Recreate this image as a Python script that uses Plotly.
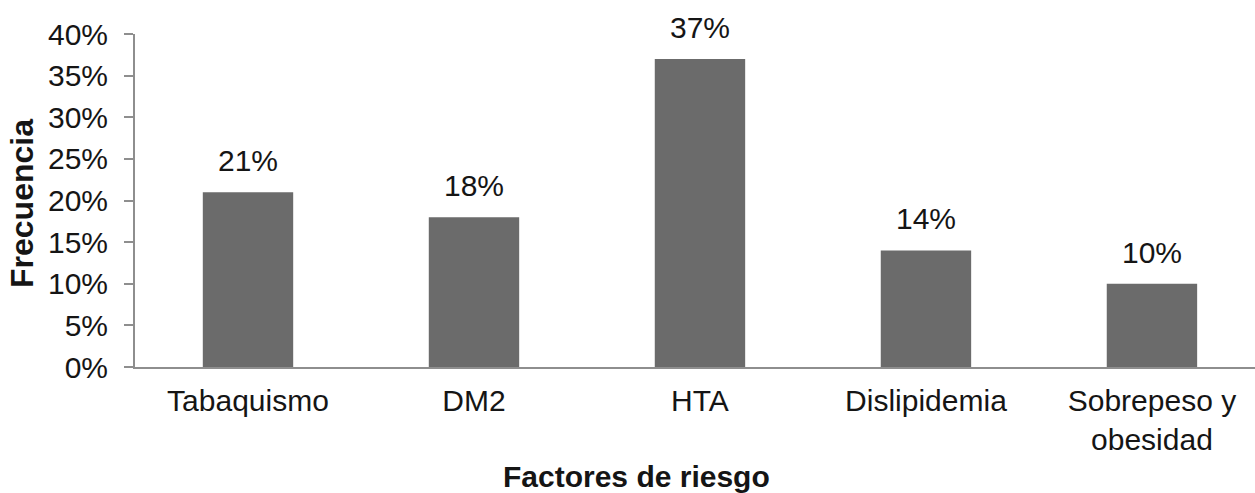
import plotly.graph_objects as go

# Risk factors and their frequency (%)
categories = ["Tabaquismo", "DM2", "HTA", "Dislipidemia", "Sobrepeso y<br>obesidad"]
frequency = [21, 18, 37, 14, 10]
y_ticks = [0, 5, 10, 15, 20, 25, 30, 35, 40]
y_tick_labels = [f"{t}%" for t in y_ticks]

FONT = "Liberation Sans, Arial, sans-serif"
BAR = "#6b6b6b"
AXIS = "#8e8e8e"
TEXT = "#151515"

W, H = 1255, 493
M_L, M_R, M_T, M_B = 135, 0, 34, 126
PW, PH = W - M_L - M_R, H - M_T - M_B

fig = go.Figure()
fig.add_trace(go.Bar(
    x=list(range(len(categories))),
    y=frequency,
    marker=dict(color=BAR, line=dict(width=0)),
    width=0.4,
    hoverinfo="skip",
))

# value labels above each bar
for i, v in enumerate(frequency):
    fig.add_annotation(
        x=i, y=v, xref="x", yref="y",
        text=f"{v}%", showarrow=False,
        yanchor="bottom", yshift=13,
        font=dict(family=FONT, size=30, color=TEXT),
    )

# axis titles
fig.add_annotation(
    x=(22 - M_L) / PW, y=(H - M_B - 204) / PH, xref="paper", yref="paper",
    text="<b>Frecuencia</b>", textangle=-90, showarrow=False,
    xanchor="center", yanchor="middle",
    font=dict(family=FONT, size=32, color=TEXT),
)
fig.add_annotation(
    x=(636 - M_L) / PW, y=-(476 - (H - M_B)) / PH, xref="paper", yref="paper",
    text="<b>Factores de riesgo</b>", showarrow=False,
    xanchor="center", yanchor="middle",
    font=dict(family=FONT, size=30, color=TEXT),
)

fig.update_layout(
    width=W, height=H,
    margin=dict(l=M_L, r=M_R, t=M_T, b=M_B, pad=0),
    paper_bgcolor="white", plot_bgcolor="white",
    showlegend=False,
    font=dict(family=FONT, size=30, color=TEXT),
    xaxis=dict(
        range=[-0.5, 4.456],
        tickmode="array",
        tickvals=list(range(len(categories))),
        ticktext=categories,
        showgrid=False, zeroline=False,
        showline=True, linecolor=AXIS, linewidth=2,
        ticks="", ticklabelstandoff=6,
        tickfont=dict(family=FONT, size=30, color=TEXT),
        fixedrange=True,
    ),
    yaxis=dict(
        range=[0, 40],
        tickmode="array",
        tickvals=y_ticks,
        ticktext=y_tick_labels,
        showgrid=False, zeroline=False,
        showline=True, linecolor=AXIS, linewidth=2,
        ticks="outside", ticklen=9, tickwidth=2, tickcolor=AXIS,
        ticklabelstandoff=10,
        tickfont=dict(family=FONT, size=30, color=TEXT),
        fixedrange=True,
    ),
)

fig.write_html("out.html")
